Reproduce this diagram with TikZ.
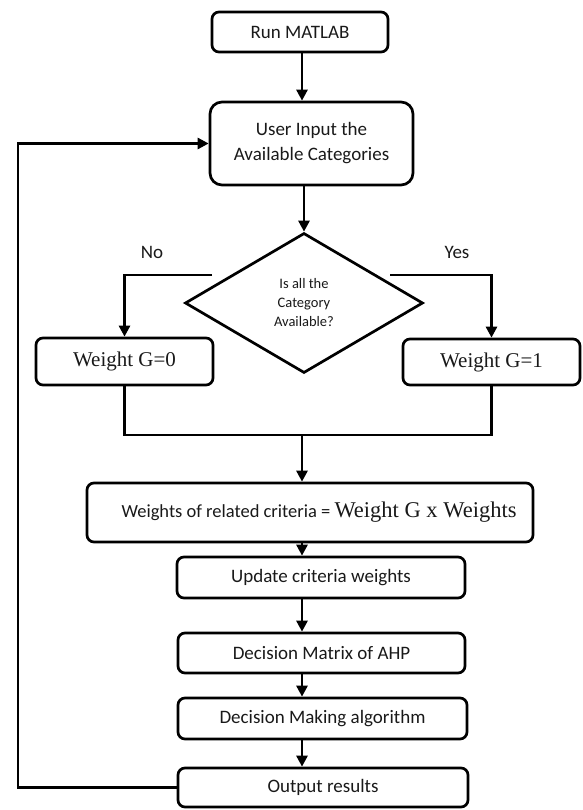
\documentclass[tikz,border=0pt]{standalone}
\usepackage{fontspec}
\setmainfont{Carlito}
\newfontfamily\serfont{Liberation Serif}
\usetikzlibrary{arrows.meta,shapes.geometric}
\begin{document}
\begin{tikzpicture}[x=1pt,y=-1pt,
  box/.style={draw, line width=2.7pt, rounded corners=7pt, inner sep=0pt, align=center,
    font=\fontsize{19}{25}\selectfont, text=black!90},
  gbox/.style={box, font=\serfont\fontsize{21}{25}\selectfont},
  lbl/.style={font=\fontsize{19}{19}\selectfont, text=black!90, inner sep=0pt},
  conn/.style={line width=2.7pt},
  arr/.style={conn, -{Triangle[length=11pt,width=11pt]}}]
\useasboundingbox (0,0) rectangle (582,810);
\node[box, minimum width=176pt, minimum height=40pt] (run) at (300,32) {Run MATLAB};
\node[box, minimum width=203pt, minimum height=83pt, rounded corners=12pt] (usr) at (311.5,143.5) {User Input the\\Available Categories};
\node[draw, diamond, line width=2.7pt, minimum width=238pt, minimum height=140pt, inner sep=0pt,
  align=center, font=\fontsize{14.5}{19}\selectfont, text=black!90] (dec) at (304,303) {Is all the\\Category\\Available?};
\node[lbl] (no) at (152,252) {No};
\node[lbl] (yes) at (457,252) {Yes};
\node[gbox, minimum width=177pt, minimum height=47pt] (g0) at (124.5,361.5) {Weight G=0};
\node[gbox, minimum width=177pt, minimum height=46pt] (g1) at (491.5,362) {Weight G=1};
\node[box, minimum width=446pt, minimum height=59pt] (wts) at (310,512.5)
  {\hspace*{18pt}\fontsize{18.5}{22}\selectfont Weights of related criteria = {\serfont\fontsize{22.5}{22}\selectfont Weight G x Weights}};
\node[box, minimum width=288pt, minimum height=41pt] (upd) at (321,577.5) {Update criteria weights};
\node[box, minimum width=287pt, minimum height=40pt] (dma) at (321.5,653) {Decision Matrix of AHP};
\node[box, minimum width=289pt, minimum height=41pt] (alg) at (322.5,718.5) {Decision Making algorithm};
\node[box, minimum width=290pt, minimum height=39pt] (out) at (323,787.5) {Output results};
\coordinate (nl) at (212,275);
\coordinate (nr) at (390,275);
\coordinate (ax) at (302,0);
\coordinate (jn) at (302,435);
\coordinate (fb) at (18,0);
\draw[arr] (run.south -| ax) -- (usr.north -| ax);
\draw[arr] (usr.south -| dec.north) -- (dec.north);
\draw[arr] (nl) -| (g0.north);
\draw[arr] (nr) -| (g1.north);
\draw[conn] (g0.south) -- (g0.south |- jn) -- (g1.south |- jn) -- (g1.south);
\draw[arr] (jn) -- (wts.north -| jn);
\draw[arr] (wts.south -| ax) -- (upd.north -| ax);
\draw[arr] (upd.south -| ax) -- (dma.north -| ax);
\draw[arr] (dma.south -| ax) -- (alg.north -| ax);
\draw[arr] (alg.south -| ax) -- (out.north -| ax);
\draw[arr] (out.west) -- (out.west -| fb) -- (fb |- usr.west) -- (usr.west);
\end{tikzpicture}
\end{document}
